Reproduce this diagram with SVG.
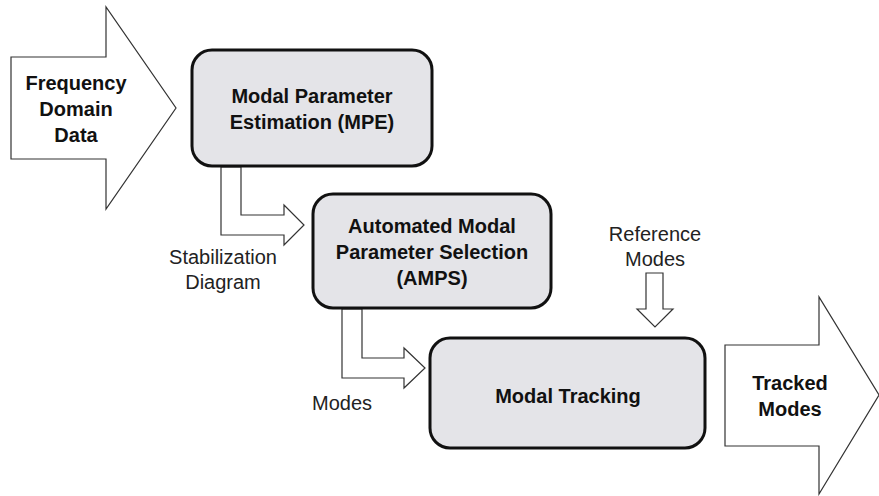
<svg xmlns="http://www.w3.org/2000/svg" width="879" height="496" viewBox="0 0 879 496">
<style>
.box{fill:#e4e4e8;stroke:#111;stroke-width:3}
.arr{fill:#fff;stroke:#333;stroke-width:1.2;stroke-linejoin:miter}
.tb{font-family:"Liberation Sans",Arial,sans-serif;font-weight:bold;font-size:20px;fill:#111;text-anchor:middle}
.tn{font-family:"Liberation Sans",Arial,sans-serif;font-size:20px;fill:#222;text-anchor:middle}
</style>
<rect width="879" height="496" fill="#fff"/>
<g id="input">
<polygon class="arr" points="11,57 106,57 106,7 176,108 106,209 106,159 11,159"/>
<text class="tb" x="76" y="90">Frequency</text>
<text class="tb" x="76" y="116">Domain</text>
<text class="tb" x="76" y="142">Data</text>
</g>
<g id="connectors">
<polygon class="arr" points="221,167 241,167 241,215 284,215 284,205 304,225 284,245 284,235 221,235"/>
<polygon class="arr" points="342,309 362,309 362,358 404,358 404,348 425,368 404,388 404,378 342,378"/>
<polygon class="arr" points="646,273 663,273 663,309 673,309 655,327 637,309 646,309"/>
</g>
<g id="mpe">
<rect class="box" x="192" y="50" width="240" height="116" rx="20"/>
<text class="tb" x="312" y="103">Modal Parameter</text>
<text class="tb" x="312" y="129">Estimation (MPE)</text>
</g>
<g id="amps">
<rect class="box" x="313" y="194" width="238" height="114" rx="20"/>
<text class="tb" x="432" y="233">Automated Modal</text>
<text class="tb" x="432" y="259">Parameter Selection</text>
<text class="tb" x="432" y="285">(AMPS)</text>
</g>
<g id="tracking">
<rect class="box" x="430" y="338" width="275" height="110" rx="20"/>
<text class="tb" x="568" y="403">Modal Tracking</text>
</g>
<g id="output">
<polygon class="arr" points="725,345 819,345 819,297 879,395 819,494 819,446 725,446"/>
<text class="tb" x="790" y="390">Tracked</text>
<text class="tb" x="790" y="416">Modes</text>
</g>
<g id="labels">
<text class="tn" x="223" y="264">Stabilization</text>
<text class="tn" x="223" y="289">Diagram</text>
<text class="tn" x="342" y="410">Modes</text>
<text class="tn" x="655" y="241">Reference</text>
<text class="tn" x="655" y="266">Modes</text>
</g>
</svg>
